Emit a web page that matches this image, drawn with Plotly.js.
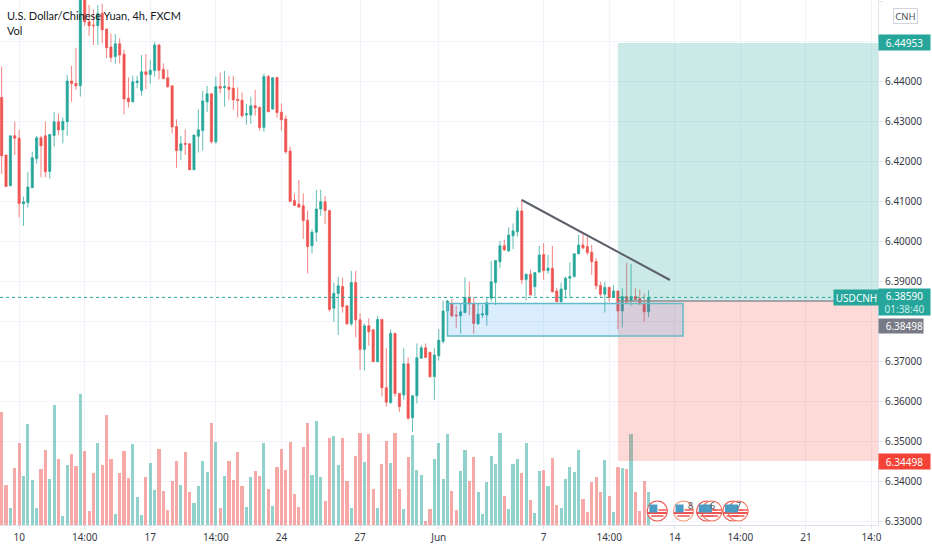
<!DOCTYPE html>
<html>
<head>
<meta charset="utf-8">
<script src="https://cdn.plot.ly/plotly-3.0.1.min.js"></script>
<style>html,body{margin:0;padding:0;background:#fff}#chart{width:932px;height:550px}</style>
</head>
<body>
<div id="chart"></div>
<script>
const open_ = [6.4359,6.4215,6.4138,6.4263,6.4257,6.4093,6.4096,6.4133,6.4206,6.4258,6.4263,6.4174,6.4264,6.4298,6.4278,6.4298,6.4400,6.4394,6.4388,6.4607,6.4548,6.4540,6.4538,6.4569,6.4530,6.4485,6.4461,6.4493,6.4467,6.4357,6.4348,6.4396,6.4376,6.4423,6.4416,6.4426,6.4490,6.4429,6.4408,6.4388,6.4286,6.4226,6.4244,6.4243,6.4178,6.4262,6.4276,6.4348,6.4368,6.4248,6.4386,6.4383,6.4385,6.4382,6.4354,6.4352,6.4315,6.4315,6.4338,6.4334,6.4284,6.4411,6.4330,6.4409,6.4322,6.4305,6.4225,6.4101,6.4092,6.4088,6.4052,6.3988,6.4022,6.4080,6.4098,6.4076,6.3832,6.3869,6.3886,6.3838,6.3793,6.3896,6.3803,6.3729,6.3788,6.3778,6.3698,6.3804,6.3633,6.3596,6.3769,6.3619,6.3615,6.3693,6.3558,6.3613,6.3707,6.3733,6.3722,6.3661,6.3713,6.3749,6.3825,6.3844,6.3815,6.3813,6.3821,6.3859,6.3843,6.3793,6.3815,6.3815,6.3857,6.3896,6.3948,6.3988,6.3975,6.4013,6.4023,6.4075,6.3904,6.3917,6.3886,6.3922,6.3966,6.3926,6.3932,6.3875,6.3848,6.3879,6.3907,6.3911,6.3968,6.3990,6.3986,6.3972,6.3949,6.3889,6.3867,6.3884,6.3859,6.3875,6.3825,6.3861,6.3851,6.3861,6.3856,6.3844,6.3823];
const high_ = [6.4436,6.4215,6.4263,6.4298,6.4278,6.4111,6.4172,6.4223,6.4263,6.4263,6.4298,6.4268,6.4323,6.4318,6.4309,6.4415,6.4438,6.4483,6.4612,6.4615,6.4590,6.4579,6.4590,6.4593,6.4530,6.4519,6.4517,6.4507,6.4478,6.4409,6.4413,6.4413,6.4465,6.4467,6.4453,6.4498,6.4493,6.4444,6.4429,6.4388,6.4304,6.4263,6.4279,6.4244,6.4265,6.4329,6.4375,6.4388,6.4369,6.4411,6.4421,6.4425,6.4413,6.4413,6.4384,6.4371,6.4343,6.4361,6.4378,6.4336,6.4418,6.4415,6.4409,6.4409,6.4344,6.4314,6.4236,6.4119,6.4153,6.4119,6.4076,6.4029,6.4128,6.4128,6.4113,6.4078,6.3896,6.3911,6.3908,6.3838,6.3925,6.3925,6.3819,6.3794,6.3807,6.3779,6.3813,6.3804,6.3732,6.3779,6.3771,6.3619,6.3732,6.3709,6.3615,6.3744,6.3740,6.3744,6.3722,6.3732,6.3780,6.3851,6.3853,6.3855,6.3838,6.3843,6.3909,6.3898,6.3859,6.3843,6.3840,6.3859,6.3950,6.3953,6.4001,6.4003,6.4034,6.4044,6.4084,6.4104,6.3918,6.3928,6.3921,6.3988,6.3994,6.3965,6.3988,6.3883,6.3896,6.3911,6.3947,6.3968,6.4015,6.4019,6.4011,6.3990,6.3957,6.3898,6.3898,6.3886,6.3890,6.3875,6.3882,6.3946,6.3943,6.3882,6.3879,6.3869,6.3877];
const low_ = [6.4168,6.4136,6.4138,6.4215,6.4059,6.4038,6.4084,6.4133,6.4193,6.4159,6.4159,6.4156,6.4236,6.4264,6.4244,6.4263,6.4348,6.4378,6.4361,6.4538,6.4513,6.4490,6.4490,6.4494,6.4457,6.4447,6.4443,6.4444,6.4316,6.4334,6.4346,6.4382,6.4363,6.4380,6.4393,6.4411,6.4404,6.4404,6.4382,6.4269,6.4183,6.4203,6.4215,6.4178,6.4178,6.4221,6.4226,6.4323,6.4244,6.4243,6.4369,6.4336,6.4353,6.4328,6.4309,6.4309,6.4291,6.4293,6.4313,6.4276,6.4273,6.4323,6.4328,6.4308,6.4276,6.4218,6.4099,6.4089,6.4082,6.4005,6.3919,6.3969,6.3998,6.4063,6.4042,6.3823,6.3798,6.3765,6.3821,6.3790,6.3788,6.3759,6.3678,6.3676,6.3738,6.3698,6.3698,6.3611,6.3586,6.3593,6.3611,6.3573,6.3603,6.3553,6.3522,6.3594,6.3707,6.3708,6.3658,6.3603,6.3701,6.3744,6.3823,6.3809,6.3782,6.3768,6.3819,6.3815,6.3768,6.3790,6.3807,6.3788,6.3848,6.3840,6.3933,6.3975,6.3973,6.3980,6.4011,6.3892,6.3851,6.3865,6.3862,6.3922,6.3903,6.3918,6.3871,6.3848,6.3847,6.3857,6.3857,6.3909,6.3967,6.3979,6.3965,6.3915,6.3879,6.3861,6.3821,6.3848,6.3859,6.3779,6.3784,6.3844,6.3838,6.3853,6.3840,6.3798,6.3809];
const close_ = [6.4213,6.4136,6.4263,6.4257,6.4094,6.4098,6.4135,6.4208,6.4258,6.4238,6.4173,6.4266,6.4298,6.4278,6.4299,6.4400,6.4394,6.4388,6.4607,6.4548,6.4538,6.4538,6.4569,6.4528,6.4483,6.4459,6.4493,6.4465,6.4355,6.4348,6.4398,6.4400,6.4423,6.4416,6.4427,6.4490,6.4427,6.4406,6.4386,6.4285,6.4226,6.4243,6.4242,6.4178,6.4265,6.4278,6.4350,6.4368,6.4248,6.4386,6.4382,6.4386,6.4379,6.4353,6.4351,6.4313,6.4318,6.4338,6.4333,6.4284,6.4411,6.4323,6.4408,6.4321,6.4303,6.4223,6.4099,6.4089,6.4085,6.4051,6.3986,6.4022,6.4080,6.4098,6.4076,6.3829,6.3869,6.3888,6.3836,6.3793,6.3896,6.3803,6.3729,6.3788,6.3773,6.3698,6.3804,6.3633,6.3597,6.3769,6.3619,6.3586,6.3693,6.3557,6.3613,6.3708,6.3733,6.3709,6.3661,6.3715,6.3752,6.3825,6.3850,6.3813,6.3813,6.3823,6.3859,6.3843,6.3794,6.3817,6.3818,6.3846,6.3898,6.3951,6.3988,6.3978,6.4015,6.4025,6.4075,6.3903,6.3917,6.3865,6.3921,6.3965,6.3926,6.3932,6.3873,6.3848,6.3880,6.3907,6.3911,6.3968,6.3990,6.3983,6.3971,6.3948,6.3888,6.3867,6.3884,6.3859,6.3875,6.3825,6.3861,6.3847,6.3861,6.3854,6.3843,6.3823,6.3859];
const volume = [113,40,17,57,82,49,101,45,17,56,75,46,120,66,9,60,71,59,131,74,14,52,82,60,110,66,11,52,74,47,81,28,10,48,62,35,76,34,15,44,64,40,73,33,22,39,64,53,102,83,17,49,64,45,73,39,18,48,54,49,82,36,19,58,76,55,83,31,18,78,102,50,104,48,24,87,89,60,87,44,17,69,92,63,91,36,17,61,84,62,92,36,16,68,90,55,50,4,16,66,82,46,91,34,15,54,75,44,68,33,11,43,69,61,92,29,16,61,66,52,82,25,12,54,55,39,67,20,17,46,58,53,75,26,13,43,48,33,65,29,13,58,57,56,91,33,14,44,33];
const barIndex = open_.map((_, i) => i);

const xTickIndex = [4,19,34,49,64,82,100,124,139,154,169,184,199];
const xTickText = ["10","14:00","17","14:00","24","27","Jun","7","14:00","14","14:00","21","14:0"];
const yTickValues = [6.33,6.34,6.35,6.36,6.37,6.38,6.39,6.40,6.41,6.42,6.43,6.44,6.45,6.46];
const yTickText = ["6.33000","6.34000","6.35000","6.36000","6.37000","","6.39000","6.40000","6.41000","6.42000","6.43000","6.44000","","6.46000"];

const lastPrice = 6.3859, entryPrice = 6.38498, targetPrice = 6.44953, stopPrice = 6.34498;
const positionStart = 141;
const zoneX = [102, 155.9], zoneY = [6.37625, 6.38437];
const trendX = [119, 152.9], trendY = [6.41025, 6.39025];
const eventX = [150, 156, 161.3, 162.5, 167.3, 168.5];
const eventRing = ['#ef5350','#f79a7d','#ef5350','#f5735f','#ef5350','#f5735f'];
const eventY = [14, 14, 14, 14, 14, 14];

const XMIN = -0.38, XMAX = 200.5, GREEN = '#26a69a', RED = '#ef5350', GRID = '#f0f3fa', AX = '#e0e3eb', INK = '#363a45', FF = '"Noto Sans", sans-serif';

const volColors = close_.map((c, i) => c >= open_[i] ? 'rgba(38,166,154,0.5)' : 'rgba(239,83,80,0.5)');
const iconTrace = (dx, dy, marker) => ({type:'scatter', mode:'markers', x:eventX.map(v=>v+dx), y:eventY.map(v=>v+dy), yaxis:'y2', hoverinfo:'skip', showlegend:false, marker});

const traces = [
  {type:'bar', x:barIndex, y:volume, yaxis:'y2', width:0.72, marker:{color:volColors, line:{width:0}}, hoverinfo:'skip', showlegend:false},
  {type:'candlestick', x:barIndex, open:open_, high:high_, low:low_, close:close_, width:0.5, whiskerwidth:0,
   increasing:{line:{color:'rgba(38,166,154,0.72)',width:1}, fillcolor:GREEN},
   decreasing:{line:{color:'rgba(239,83,80,0.72)',width:1}, fillcolor:RED}, hoverinfo:'skip', showlegend:false},
  iconTrace(0, 0, {symbol:'circle', size:20, color:'#fff', line:{color:eventRing, width:1.2}}),
  iconTrace(0, -2, {symbol:'line-ew', size:14, line:{color:'#ef5350', width:2}}),
  iconTrace(0, -5, {symbol:'line-ew', size:9, line:{color:'#ef5350', width:1.5}}),
  iconTrace(1.2, 1, {symbol:'line-ew', size:6, line:{color:'#ef5350', width:1.5}}),
  iconTrace(-0.9, 2.5, {symbol:'square', size:8, color:'#4b9cc4', line:{width:0}})
];

const shapes = [
  {type:'rect', xref:'x', yref:'y', x0:positionStart, x1:XMAX, y0:entryPrice, y1:targetPrice, fillcolor:'rgba(38,166,154,0.24)', line:{width:0}, layer:'above'},
  {type:'rect', xref:'x', yref:'y', x0:positionStart, x1:XMAX, y0:stopPrice, y1:entryPrice, fillcolor:'rgba(244,67,54,0.2)', line:{width:0}, layer:'above'},
  {type:'line', xref:'x', yref:'y', x0:positionStart, x1:XMAX, y0:entryPrice, y1:entryPrice, line:{color:'#8a8e98', width:1.5}, layer:'above'},
  {type:'line', xref:'x', yref:'y', x0:XMIN, x1:XMAX, y0:lastPrice, y1:lastPrice, line:{color:'#26a69a', width:1, dash:'dot'}, layer:'above'},
  {type:'rect', xref:'x', yref:'y', x0:zoneX[0], x1:zoneX[1], y0:zoneY[0], y1:zoneY[1], fillcolor:'rgba(33,150,243,0.17)', line:{color:'#62bcc8', width:1.5}, layer:'above'},
  {type:'line', xref:'x', yref:'y', x0:trendX[0], x1:trendX[1], y0:trendY[0], y1:trendY[1], line:{color:'#5d606b', width:2}, layer:'above'}
];

function tag(y, text, bg, w, h, shiftX, opts){
  return Object.assign({xref:'paper', yref:'y', x:1, xanchor:'left', y:y, yanchor:'middle', xshift:shiftX||0, text:text, showarrow:false,
    bgcolor:bg, width:w, height:h, align:'center', valign:'middle', borderpad:0, font:{family:FF, size:10, color:'#fff'}}, opts||{});
}

const annotations = [
  {xref:'paper', yref:'paper', x:0, xshift:6, y:1, yshift:-8, xanchor:'left', yanchor:'top', showarrow:false, text:'U.S. Dollar/Chinese Yuan, 4h, FXCM', font:{family:'Lato, sans-serif', size:11, color:'#131722'}, borderpad:0},
  {xref:'paper', yref:'paper', x:0, xshift:6, y:1, yshift:-23, xanchor:'left', yanchor:'top', showarrow:false, text:'Vol', font:{family:'Lato, sans-serif', size:11, color:'#131722'}, borderpad:0},
  tag(targetPrice, '6.44953', '#26a69a', 51, 15),
  tag(stopPrice, '6.34498', '#f44336', 51, 15, 0),
  tag(lastPrice, '6.38590<br><span style="color:#c9ece8">01:38:40</span>', '#26a69a', 51, 26, 0, {yshift:-5}),
  tag(entryPrice, '6.38498', '#787b86', 44, 14, 0, {yshift:-25, align:'right'}),
  tag(lastPrice, 'USDCNH', '#26a69a', 45, 15, -45, {yshift:0}),
  {xref:'paper', yref:'paper', x:1, xshift:15, y:1, yshift:-8, xanchor:'left', yanchor:'top', showarrow:false, text:'CNH', bgcolor:'#fff', bordercolor:'#d1d4dc', borderwidth:1, width:23, height:14, font:{family:FF, size:9.5, color:'#50535e'}, borderpad:0},
  {xref:'x', yref:'y2', x:157.7, y:20, showarrow:false, text:'8', font:{family:FF, size:9, color:'#50535e'}},
  {xref:'x', yref:'y2', x:162.6, y:20, showarrow:false, text:'6', font:{family:FF, size:9, color:'#50535e'}},
  {xref:'x', yref:'y2', x:168.6, y:20, showarrow:false, text:'7', font:{family:FF, size:9, color:'#50535e'}}
];

const layout = {
  width:932, height:550, margin:{l:0, r:54, t:0, b:25, pad:0},
  paper_bgcolor:'#fff', plot_bgcolor:'#fff', showlegend:false, bargap:0, dragmode:false,
  xaxis:{range:[XMIN, XMAX], tickmode:'array', tickvals:xTickIndex, ticktext:xTickText, showgrid:true, gridcolor:GRID, gridwidth:1,
    zeroline:false, rangeslider:{visible:false}, showline:true, linecolor:AX, ticks:'outside', ticklen:3, tickcolor:AX, tickfont:{family:FF, size:10, color:INK}, fixedrange:true},
  yaxis:{range:[6.329, 6.46025], side:'right', tickmode:'array', tickvals:yTickValues, ticktext:yTickText, showgrid:true, gridcolor:GRID, gridwidth:1,
    zeroline:false, showline:true, linecolor:AX, ticks:'outside', ticklen:4, tickcolor:AX, tickfont:{family:FF, size:10, color:INK}, fixedrange:true},
  yaxis2:{range:[0, 525], overlaying:'y', side:'left', visible:false, fixedrange:true},
  shapes:shapes, annotations:annotations
};

Plotly.newPlot('chart', traces, layout, {displayModeBar:false, staticPlot:true});
</script>
</body>
</html>
